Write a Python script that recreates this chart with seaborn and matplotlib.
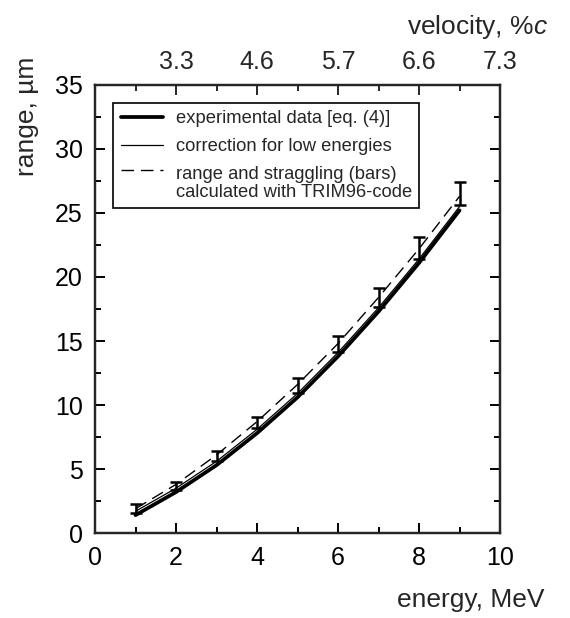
import numpy as np
import pandas as pd
import matplotlib
matplotlib.use("Agg")
import matplotlib.pyplot as plt
from matplotlib.lines import Line2D
from matplotlib.legend_handler import HandlerLine2D
import seaborn as sns

# ---- data ----
energy = [1, 2, 3, 4, 5, 6, 7, 8, 9]
range_exp = [1.4, 3.2, 5.3, 7.8, 10.6, 13.8, 17.3, 21.1, 25.2]      # thick solid
range_corr = [1.7, 3.5, 5.6, 8.1, 10.9, 14.1, 17.6, 21.4, 25.5]     # thin solid
range_trim = [1.9, 3.8, 6.1, 8.7, 11.6, 14.8, 18.4, 22.2, 26.3]     # dashed
bar_center = [1.9, 3.7, 6.0, 8.65, 11.5, 14.8, 18.4, 22.25, 26.5]
bar_half = [0.35, 0.3, 0.4, 0.45, 0.6, 0.62, 0.72, 0.85, 0.9]
top_tick_pos = [2, 4, 6, 8, 10]
top_tick_labels = ["3.3", "4.6", "5.7", "6.6", "7.3"]
x_ticks = [0, 2, 4, 6, 8, 10]
y_ticks = [0, 5, 10, 15, 20, 25, 30, 35]

sns.set_style("ticks")
plt.rcParams["font.family"] = ["Liberation Sans", "DejaVu Sans"]
plt.rcParams["mathtext.fontset"] = "custom"
plt.rcParams["mathtext.rm"] = "Liberation Sans"
plt.rcParams["mathtext.it"] = "Liberation Sans:italic"

fig = plt.figure(figsize=(5.7, 6.18), dpi=100)
ax = fig.add_axes([0.1667, 0.1375, 0.7105, 0.725])

df = pd.DataFrame({"E": energy, "exp": range_exp, "corr": range_corr, "trim": range_trim})
sns.lineplot(data=df, x="E", y="exp", ax=ax, color="black", lw=2.7, sort=True)
sns.lineplot(data=df, x="E", y="corr", ax=ax, color="black", lw=0.9, sort=True)
sns.lineplot(data=df, x="E", y="trim", ax=ax, color="black", lw=1.0, sort=True,
             dashes=False, linestyle=(0, (9, 5)))
ax.errorbar(energy, bar_center, yerr=bar_half, fmt="none", ecolor="black",
            elinewidth=1.8, capsize=4.2, capthick=1.8)

ax.set_xlim(0, 10)
ax.set_ylim(0, 35)
ax.set_xticks(x_ticks)
ax.set_xticks([1, 3, 5, 7, 9], minor=True)
ax.set_yticks(y_ticks)
ax.set_yticks([2.5, 7.5, 12.5, 17.5, 22.5, 27.5, 32.5], minor=True)
ax.set_xlabel("")
ax.set_ylabel("")
ax.tick_params(which="both", direction="in", width=1.4, colors="black",
               labelsize=18, right=True)
ax.tick_params(which="major", length=7)
ax.tick_params(which="minor", length=4)
ax.tick_params(axis="x", pad=9)
ax.tick_params(axis="y", pad=9)
for s in ax.spines.values():
    s.set_visible(True)
    s.set_linewidth(1.6)
    s.set_color("black")

ax2 = ax.twiny()
ax2.set_xlim(0, 10)
ax2.set_xticks(top_tick_pos)
ax2.set_xticklabels(top_tick_labels)
ax2.set_xticks([1, 3, 5, 7, 9], minor=True)
ax2.tick_params(which="both", direction="in", width=1.4, labelsize=18, pad=8)
ax2.tick_params(which="major", length=7)
ax2.tick_params(which="minor", length=4)
for s in ax2.spines.values():
    s.set_linewidth(1.6)

fig.text(0.956, 0.029, "energy, MeV", ha="right", va="center", fontsize=19)
fig.text(0.962, 0.956, r"velocity, %$\mathit{c}$", ha="right", va="center", fontsize=19)
fig.text(0.047, 0.812, "range, µm", ha="center", va="center", rotation=90, fontsize=19)


class FirstLineHandler(HandlerLine2D):
    """Place the legend line at the first line of a two-line label."""
    def create_artists(self, legend, orig_handle, xdescent, ydescent, width,
                       height, fontsize, trans):
        arts = super().create_artists(legend, orig_handle, xdescent, ydescent,
                                      width, height, fontsize, trans)
        for a in arts:
            a.set_ydata(np.asarray(a.get_ydata()) + 0.72 * fontsize)
        return arts


handles = [
    Line2D([], [], color="black", lw=2.7),
    Line2D([], [], color="black", lw=0.9),
    Line2D([], [], color="black", lw=1.0, linestyle=(0, (9, 5))),
]
labels = ["experimental data [eq. (4)]", "correction for low energies",
          "range and straggling (bars)\ncalculated with TRIM96-code"]
leg = ax.legend(handles, labels, loc="upper left", bbox_to_anchor=(0.045, 0.96),
                fontsize=13.2, frameon=True, fancybox=False, edgecolor="black",
                framealpha=1, handlelength=2.3, handletextpad=0.7,
                labelspacing=0.6, borderpad=0.4, borderaxespad=0,
                handler_map={handles[2]: FirstLineHandler()})
leg.get_texts()[2].set_linespacing(1.05)
leg.get_frame().set_linewidth(1.2)

fig.savefig("out.png", dpi=100)
